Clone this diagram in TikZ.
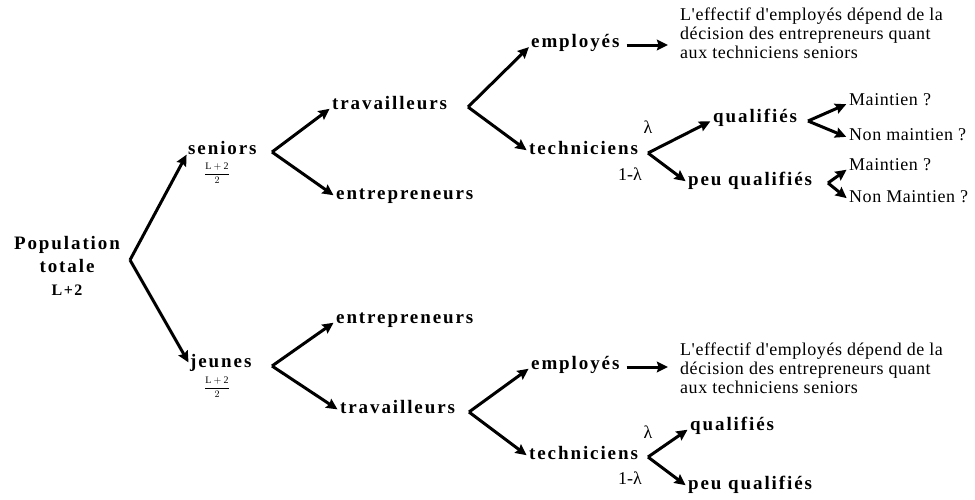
\documentclass[tikz,border=0pt]{standalone}
\usepackage{fontspec}
\setmainfont{Liberation Serif}
\newfontfamily\lblfont[LetterSpace=10]{Liberation Serif}
\newfontfamily\txtfont[LetterSpace=3]{Liberation Serif}
\usepackage{tikz}
\usetikzlibrary{arrows.meta,calc,positioning}

\begin{document}
\begin{tikzpicture}[x=1pt,y=-1pt,
  lbl/.style={anchor=mid west,inner sep=0pt,font=\lblfont\bfseries\fontsize{19}{22}\selectfont},
  txt/.style={anchor=mid west,inner sep=0pt,font=\txtfont\fontsize{18}{19}\selectfont},
  note/.style={anchor=north west,inner sep=0pt,align=left,font=\txtfont\fontsize{18}{19}\selectfont},
  prob/.style={inner sep=0pt,font=\fontsize{18}{19}\selectfont},
  frac/.style={inner sep=0pt,font=\fontsize{10}{11}\selectfont},
  arr/.style={line width=3pt,-{Stealth[length=11pt,width=10.5pt,inset=1.5pt]},shorten >=3pt}]
\useasboundingbox (0,0) rectangle (975,499);

% racine
\node[align=center,inner sep=0pt,font=\lblfont\bfseries\fontsize{19}{23}\selectfont] (pop) at (67,266)
  {Population\\ totale\\ \fontsize{16}{23}\selectfont L+2};
\coordinate (vPop) at (130,260);

% seniors
\node[lbl] (sen) at (188,152) {seniors};
\node[frac] (fracSen) at (217,173) {$\displaystyle\frac{\mathrm{L+2}}{2}$};
\coordinate (vSen) at (272,152);
\node[lbl] (travS) at (332,107) {travailleurs};
\node[lbl] (entrS) at (336,197) {entrepreneurs};
\coordinate (vTravS) at (468,107);
\node[lbl] (empS) at (531,45) {employés};
\node[lbl] (techS) at (529,152) {techniciens};
\node[note] (noteS) at (680,8) {L'effectif d'employés dépend de la\\ décision des entrepreneurs quant\\ aux techniciens seniors};
\coordinate (vTechS) at (648,153);
\node[prob] (lamS) at (648,127) {λ};
\node[prob] (mlamS) at (630,174) {1-λ};
\node[lbl] (qualS) at (713,120) {qualifiés};
\node[lbl] (peuS) at (688,183) {peu qualifiés};
\coordinate (vQualS) at (808,121);
\coordinate (vPeuS) at (828,183);
\node[txt] (mainQ) at (849,103) {Maintien ?};
\node[txt] (nonQ) at (849,138) {Non maintien ?};
\node[txt] (mainP) at (849,168) {Maintien ?};
\node[txt] (nonP) at (849,200) {Non Maintien ?};

% jeunes
\node[lbl] (jeu) at (190,365) {jeunes};
\node[frac] (fracJeu) at (217,387) {$\displaystyle\frac{\mathrm{L+2}}{2}$};
\coordinate (vJeu) at (272,366);
\node[lbl] (entrJ) at (336,321) {entrepreneurs};
\node[lbl] (travJ) at (340,411) {travailleurs};
\coordinate (vTravJ) at (469,412);
\node[lbl] (empJ) at (531,367) {employés};
\node[lbl] (techJ) at (529,457) {techniciens};
\node[note] (noteJ) at (680,343) {L'effectif d'employés dépend de la\\ décision des entrepreneurs quant\\ aux techniciens seniors};
\coordinate (vTechJ) at (648,457);
\node[prob] (lamJ) at (648,432) {λ};
\node[prob] (mlamJ) at (630,478) {1-λ};
\node[lbl] (qualJ) at (690,428) {qualifiés};
\node[lbl] (peuJ) at (688,487) {peu qualifiés};

% fleches
\draw[arr] (vPop) -- (sen.mid west);
\draw[arr] (vPop) -- (jeu.mid west);
\draw[arr] (vSen) -- (travS.mid west);
\draw[arr] (vSen) -- (entrS.mid west);
\draw[arr] (vTravS) -- (empS.mid west);
\draw[arr] (vTravS) -- (techS.mid west);
\draw[arr,shorten <=7pt,shorten >=12pt] (empS.mid east) -- (empS.mid east -| noteS.west);
\draw[arr] (vTechS) -- (qualS.mid west);
\draw[arr] (vTechS) -- (peuS.mid west);
\draw[arr] (vQualS) -- (mainQ.mid west);
\draw[arr] (vQualS) -- (nonQ.mid west);
\draw[arr] (vPeuS) -- (mainP.mid west);
\draw[arr] (vPeuS) -- (nonP.mid west);
\draw[arr] (vJeu) -- (entrJ.mid west);
\draw[arr] (vJeu) -- (travJ.mid west);
\draw[arr] (vTravJ) -- (empJ.mid west);
\draw[arr] (vTravJ) -- (techJ.mid west);
\draw[arr,shorten <=7pt,shorten >=12pt] (empJ.mid east) -- (empJ.mid east -| noteJ.west);
\draw[arr] (vTechJ) -- (qualJ.mid west);
\draw[arr] (vTechJ) -- (peuJ.mid west);
\end{tikzpicture}
\end{document}
